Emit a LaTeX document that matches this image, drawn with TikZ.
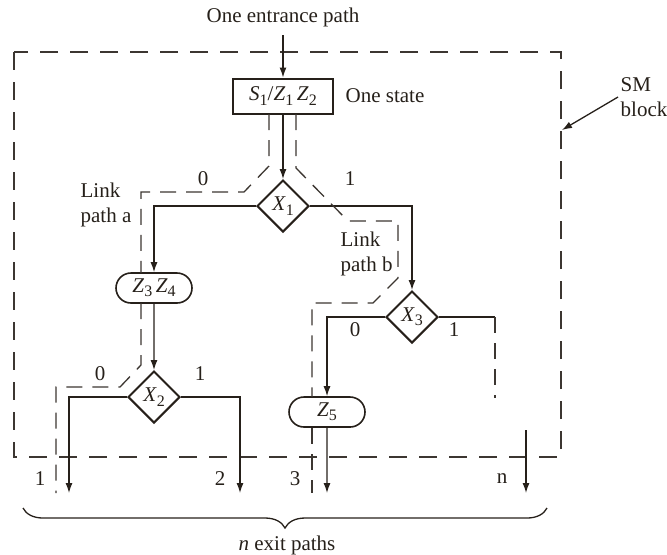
\documentclass[tikz,border=0pt]{standalone}
\usepackage{fontspec}
\setmainfont{Liberation Serif}
\usetikzlibrary{shapes.geometric, shapes.misc, arrows.meta, decorations.pathreplacing}
\definecolor{ink}{RGB}{38,32,26}
\newcommand{\vsub}[2]{\textit{#1}\raisebox{-0.45ex}{\fontsize{8pt}{8pt}\selectfont #2}}

\begin{document}
\begin{tikzpicture}[x=0.5pt, y=-0.5pt, line width=0.65pt]
   \fontsize{10.5pt}{12.6pt}\selectfont
    % --- STYLES ---
    \tikzstyle{statebox} = [rectangle, draw=ink, line width=1pt, minimum width=50pt, minimum height=17.5pt, inner sep=2pt, text=ink]
    \tikzstyle{decision} = [diamond, draw=ink, line width=1pt, aspect=1, minimum width=26pt, minimum height=26pt, inner sep=0pt, text=ink]
    \tikzstyle{output} = [rounded rectangle, draw=ink, line width=0.8pt, minimum width=40pt, minimum height=15pt, inner sep=1pt, text=ink]
    \tikzstyle{flow} = [-{Latex[length=5pt,width=3.5pt]}, draw=ink]
    \tikzstyle{link} = [draw=ink!90, dash pattern=on 8pt off 5pt]
    \tikzstyle{block} = [draw=ink!90, dash pattern=on 9pt off 6pt]
    \tikzstyle{lbl} = [inner sep=1pt, text=ink]

    \useasboundingbox (0,0) rectangle (667,554);

    % --- NODES ---
    \node (entrance) [lbl] at (283,17) {One entrance path};
    \node (state)    [statebox] at (283,96) {\vsub{S}{1}/\vsub{Z}{1}\,\vsub{Z}{2}};
    \node (x1)       [decision] at (283,206) {\vsub{X}{1}};
    \node (z34)      [output] at (154,288) {\vsub{Z}{3}\,\vsub{Z}{4}};
    \node (x2)       [decision] at (154,397) {\vsub{X}{2}};
    \node (x3)       [decision] at (412,317) {\vsub{X}{3}};
    \node (z5)       [output] at (327,412) {\vsub{Z}{5}};

    \node (statelbl) [lbl, anchor=west] at (343,96) {One state};
    \node (sm)       [lbl, anchor=west, align=left] at (618,97) {SM\\block};
    \node (linka)    [lbl, anchor=west, align=left] at (78,205) {Link\\path a};
    \node (linkb)    [lbl, anchor=west, align=left] at (338,254) {Link\\path b};
    \node [lbl] at (203,179) {0};
    \node [lbl] at (350,179) {1};
    \node [lbl] at (100,374) {0};
    \node [lbl] at (200,374) {1};
    \node [lbl] at (355,330) {0};
    \node [lbl] at (454,330) {1};
    \node [lbl] at (40,479) {1};
    \node [lbl] at (220,479) {2};
    \node [lbl] at (295,479) {3};
    \node [lbl] at (502,479) {n};
    \node (exits) [lbl] at (287,545) {\textit{n} exit paths};

    \coordinate (exit1) at (69,493);
    \coordinate (exit2) at (240,493);
    \coordinate (exit3) at (327,493);
    \coordinate (exitn) at (526,493);
    \coordinate (ntop) at (526,430);
    \coordinate (open1) at (495,317);
    \coordinate (open2) at (495,398);
    \coordinate (smtip) at (562,130);

    % --- SM BLOCK ---
    \draw[block] (14,52) rectangle (561,457);

    % --- ARROWS ---
    \draw[flow, shorten <=3pt] (entrance.south) -- (state);
    \draw[flow] (state) -- (x1);
    \draw[flow] (x1.west) -| (z34.north);
    \draw[flow] (x1.east) -| (x3.north);
    \draw[flow] (z34) -- (x2);
    \draw[flow] (x2.west) -| (exit1);
    \draw[flow] (x2.east) -| (exit2);
    \draw[flow] (x3.west) -| (z5.north);
    \draw[flow] (z5) -- (exit3);
    \draw[draw=ink] (x3.east) -- (open1);
    \draw[link] (open1) -- (open2);
    \draw[flow] (ntop) -- (exitn);
    \draw[flow] (sm.west) -- (smtip);

    % Link paths
    \draw[link] (269,114) -- (269,166) -- (244,192) -- (141,192) -- (141,273);
    \draw[link] (141,303) -- (141,365) -- (120,387) -- (56,387) -- (56,493);
    \draw[link] (296,114) -- (296,168) -- (348,221) -- (398,221) -- (398,278) -- (373,303) -- (312,303) -- (312,397);
    \draw[link] (312,428) -- (312,493);

    % Exit brace
    \draw[draw=ink, decorate, decoration={brace, mirror, amplitude=10pt}] (23,508) -- (547,508);
\end{tikzpicture}
\end{document}
